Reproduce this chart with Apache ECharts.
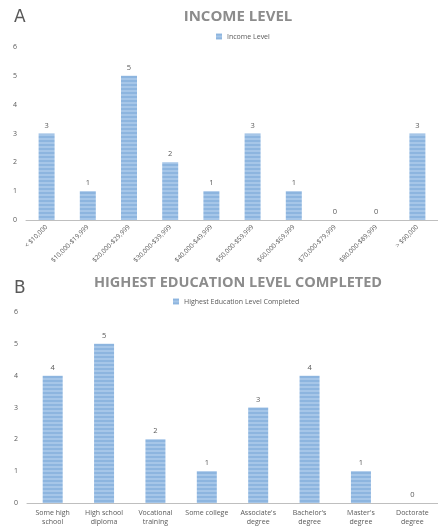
<!DOCTYPE html>
<html>
<head>
<meta charset="utf-8">
<script src="https://cdn.jsdelivr.net/npm/echarts@6/dist/echarts.min.js"></script>
<style>
  html, body { margin: 0; padding: 0; background: #fff; }
  #chart { width: 438px; height: 529px; }
</style>
</head>
<body>
<div id="chart"></div>
<script>
const incomeCategories = ['< $10,000', '$10,000-$19,999', '$20,000-$29,999', '$30,000-$39,999', '$40,000-$49,999',
  '$50,000-$59,999', '$60,000-$69,999', '$70,000-$79,999', '$80,000-$89,999', '> $90,000']
const incomeValues = [3, 1, 5, 2, 1, 3, 1, 0, 0, 3]

const eduCategories = ['Some high\nschool', 'High school\ndiploma', 'Vocational\ntraining', 'Some college',
  "Associate's\ndegree", "Bachelor's\ndegree", "Master's\ndegree", 'Doctorate\ndegree']
const eduValues = [4, 5, 2, 1, 3, 4, 1, 0]

const yTicks = [0, 1, 2, 3, 4, 5, 6]

// striped fill like the original bars
function stripes() {
  const c = document.createElement('canvas')
  c.width = 4
  c.height = 4
  const ctx = c.getContext('2d')
  ctx.fillStyle = '#a6c6e8'
  ctx.fillRect(0, 0, 4, 4)
  ctx.fillStyle = '#8db5df'
  ctx.fillRect(0, 0, 4, 2)
  return c
}
const barFill = { image: stripes(), repeat: 'repeat' }

const font = 'Open Sans'
const gray = '#595959'

let chart = echarts.init(document.getElementById('chart'))

function yAxis(gridIndex) {
  return {
    type: 'value', gridIndex: gridIndex,
    min: yTicks[0], max: yTicks[yTicks.length - 1], interval: 1,
    axisLine: { show: false }, axisTick: { show: false },
    splitLine: { show: false },
    axisLabel: { color: gray, fontSize: 7, fontFamily: font, margin: 9 }
  }
}

function barSeries(name, data, idx, width) {
  return {
    name: name, type: 'bar', xAxisIndex: idx, yAxisIndex: idx,
    data: data, barWidth: width,
    itemStyle: { color: barFill, borderWidth: 0 },
    label: { show: true, position: 'top', distance: 4, color: gray, fontSize: 7.5, fontFamily: font },
    animation: false
  }
}

chart.setOption({
  animation: false,
  title: [
    { text: 'A', left: 9, top: 4, textStyle: { fontSize: 17, fontWeight: 'normal', color: '#595959', fontFamily: 'DejaVu Sans' } },
    { text: 'INCOME LEVEL', left: 233, textAlign: 'center', top: 4, textStyle: { fontSize: 15, fontWeight: 'bold', color: '#8c8c8c', fontFamily: font } },
    { text: 'B', left: 9, top: 275, textStyle: { fontSize: 17, fontWeight: 'normal', color: '#595959', fontFamily: 'DejaVu Sans' } },
    { text: 'HIGHEST EDUCATION LEVEL COMPLETED', left: 233, textAlign: 'center', top: 270, textStyle: { fontSize: 14.5, fontWeight: 'bold', color: '#8c8c8c', fontFamily: font } }
  ],
  legend: [
    { data: ['Income Level'], top: 28, left: 211, itemWidth: 6, itemHeight: 6, itemGap: 3,
      icon: 'rect', textStyle: { fontSize: 7, color: gray, fontFamily: font } },
    { data: ['Highest Education Level Completed'], top: 293, left: 168, itemWidth: 6, itemHeight: 6,
      icon: 'rect', textStyle: { fontSize: 7, color: gray, fontFamily: font } }
  ],
  color: ['#8db5df'],
  grid: [
    { left: 26, right: -8, top: 47, height: 173, containLabel: false },
    { left: 27, right: -10, top: 312, height: 191, containLabel: false }
  ],
  xAxis: [
    {
      type: 'category', gridIndex: 0, data: incomeCategories,
      axisLine: { lineStyle: { color: '#bfbfbf', width: 1 } }, axisTick: { show: false },
      axisLabel: { rotate: 45, interval: 0, color: gray, fontSize: 6.5, fontFamily: font, margin: 6 }
    },
    {
      type: 'category', gridIndex: 1, data: eduCategories,
      axisLine: { lineStyle: { color: '#bfbfbf', width: 1 } }, axisTick: { show: false },
      axisLabel: { interval: 0, color: gray, fontSize: 7, lineHeight: 9, fontFamily: font, margin: 5 }
    }
  ],
  yAxis: [yAxis(0), yAxis(1)],
  series: [
    barSeries('Income Level', incomeValues, 0, 16),
    barSeries('Highest Education Level Completed', eduValues, 1, 20)
  ]
})
</script>
</body>
</html>
